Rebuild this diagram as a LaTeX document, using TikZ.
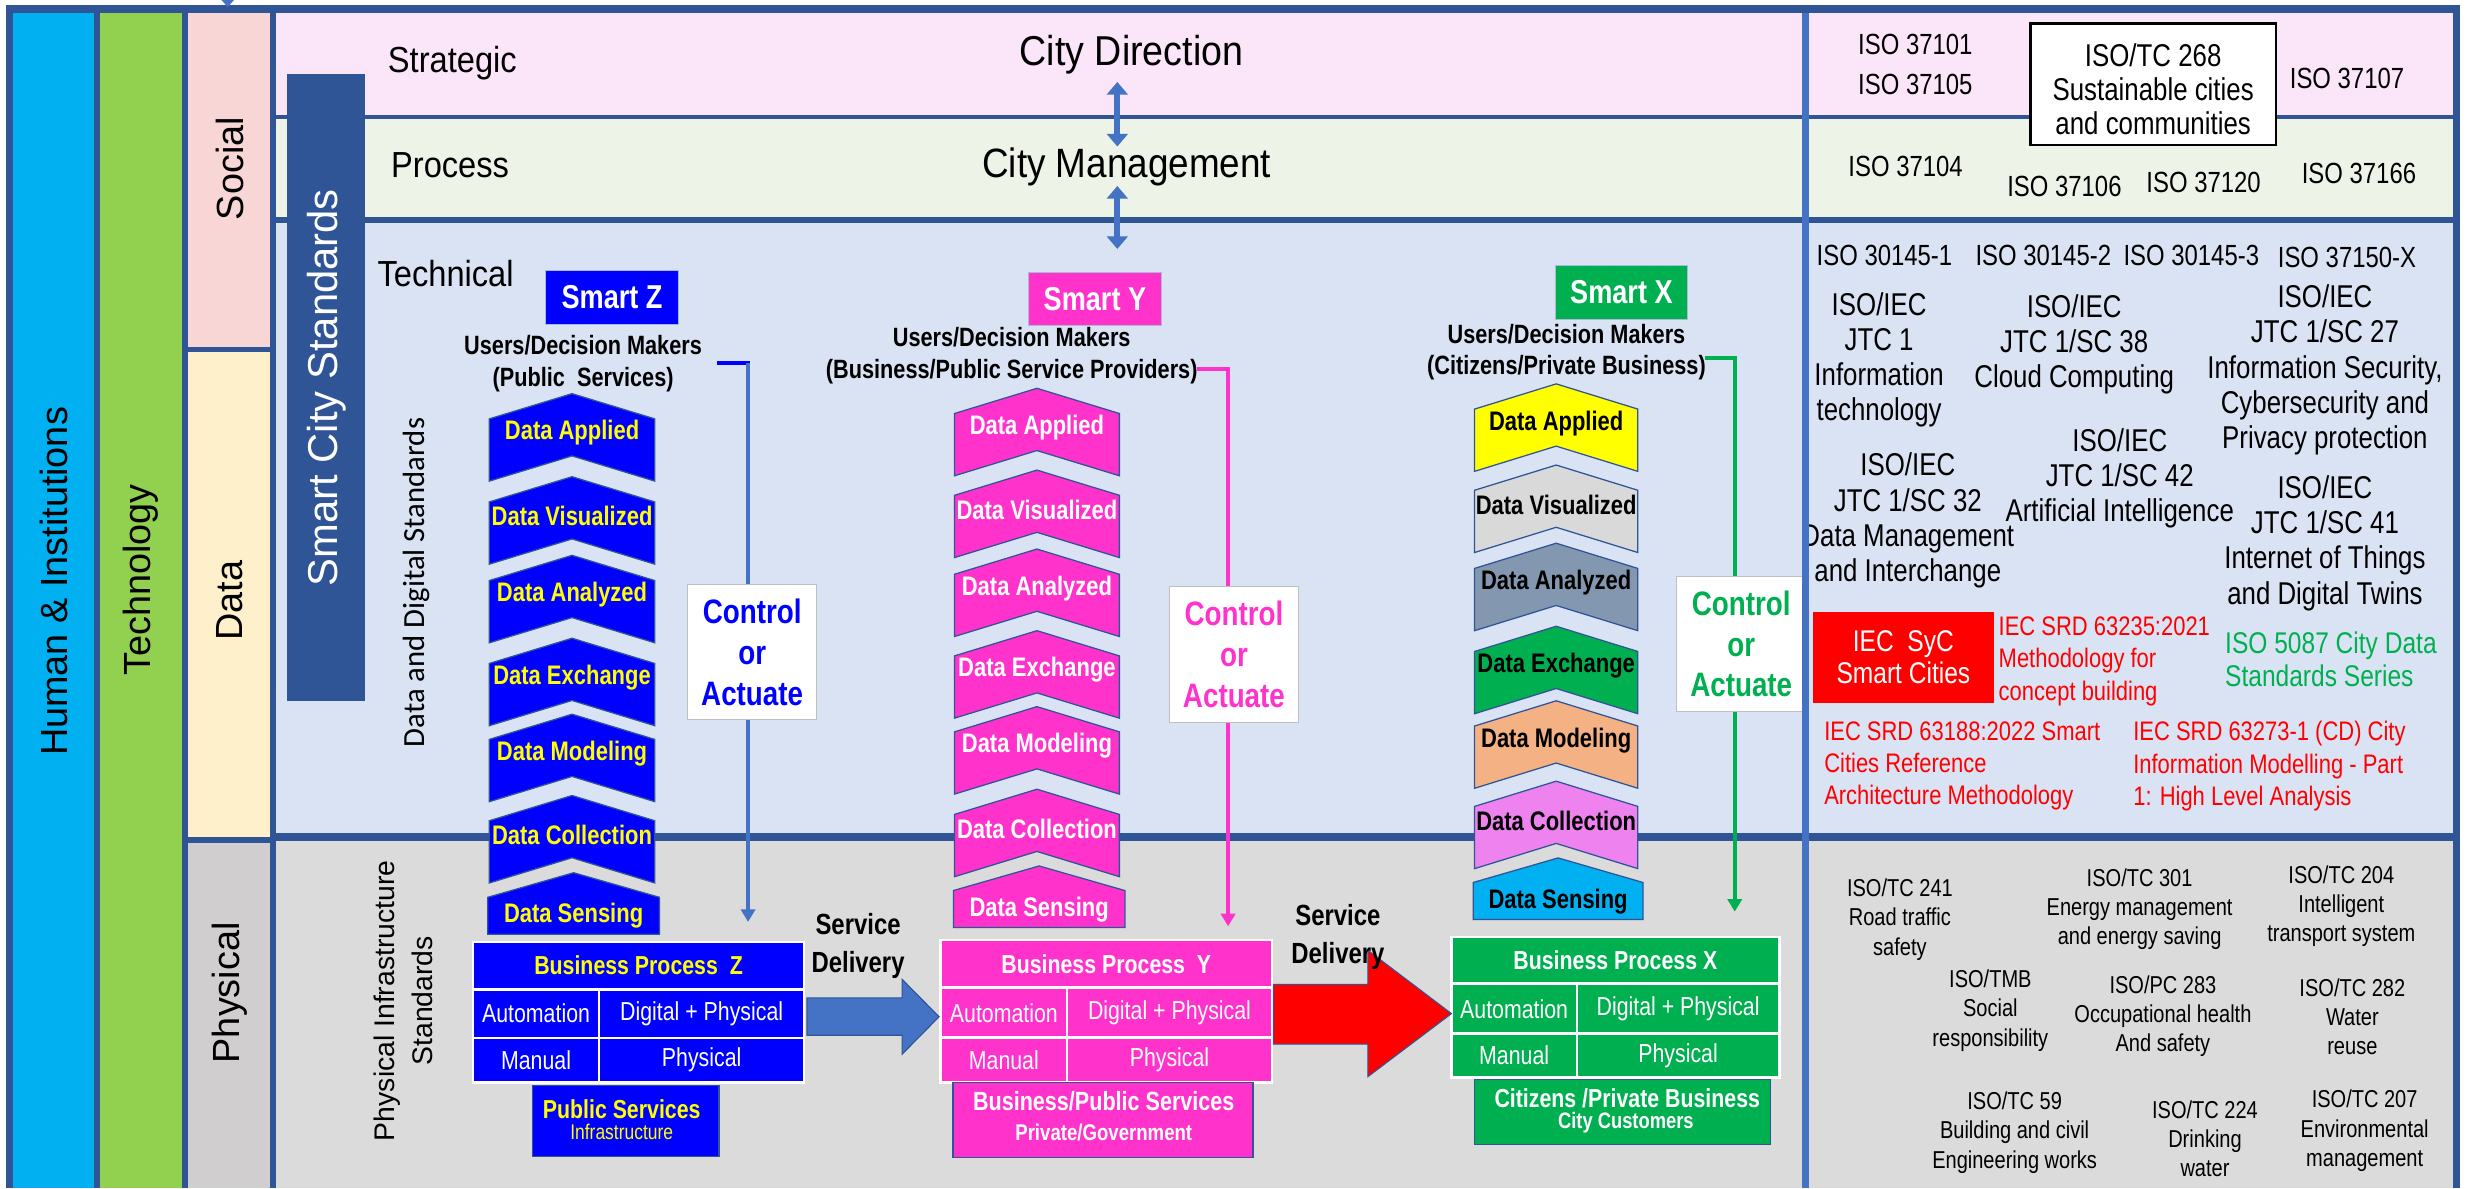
\documentclass[tikz,border=0pt]{standalone}
\usepackage{fontspec}
\setmainfont{Liberation Sans}
\newfontfamily\nar[FakeStretch=0.82]{Liberation Sans}
\newfontfamily\semi[FakeStretch=0.9]{Liberation Sans}
\newfontfamily\calfont{Carlito}
\usetikzlibrary{arrows.meta,calc}

\definecolor{frame}{HTML}{2F5597}
\definecolor{divc}{HTML}{4472C4}
\definecolor{cyanc}{HTML}{00B0F0}
\definecolor{greenc}{HTML}{92D050}
\definecolor{socialc}{HTML}{F8D6D5}
\definecolor{datac}{HTML}{FFF0CC}
\definecolor{physc}{HTML}{D0CECE}
\definecolor{strat}{HTML}{FBE5F9}
\definecolor{proc}{HTML}{EEF3E8}
\definecolor{tech}{HTML}{DAE3F3}
\definecolor{physband}{HTML}{DBDBDB}
\definecolor{zblue}{HTML}{0000FF}
\definecolor{ymag}{HTML}{FF33CC}
\definecolor{xgreen}{HTML}{00B050}
\definecolor{isored}{HTML}{FF0000}
\definecolor{xyel}{HTML}{FFFF00}
\definecolor{xgrey}{HTML}{D9D9D9}
\definecolor{xslate}{HTML}{8497B0}
\definecolor{xpeach}{HTML}{F4B183}
\definecolor{xviolet}{HTML}{EE82EE}

\newcommand\fsz[2]{\fontsize{#1}{#2}\selectfont}
% chevron step: name, centre x, top y, width, fill, text colour, label
\newcommand\chevshape[7]{%
  \filldraw[chev, fill=#5] ({#2-#4/2},{#3+16}) -- (#2,#3) -- ({#2+#4/2},{#3+16})
    -- ({#2+#4/2},{#3+55.5}) -- (#2,{#3+39.5}) -- ({#2-#4/2},{#3+55.5}) -- cycle;
  \node[chevtext, text=#6] (#1) at (#2,{#3+25}) {#7};}
% bottom step with a flat base
\newcommand\pentshape[7]{%
  \filldraw[chev, fill=#5] ({#2-#4/2},{#3+15.6}) -- (#2,#3) -- ({#2+#4/2},{#3+15.6})
    -- ({#2+#4/2},{#3+39}) -- ({#2-#4/2},{#3+39}) -- cycle;
  \node[chevtext, text=#6] (#1) at (#2,{#3+27.5}) {#7};}
% rectangular cell: name, x1, y1, x2, y2, fill, options, text
\newcommand\cellbox[8]{\node[anchor=north west, minimum width={#4-#2}, minimum height={#5-#3}, fill=#6, #7] (#1) at (#2,#3) {#8};}

\begin{document}
\begin{tikzpicture}[x=1pt,y=-1pt,
  every node/.style={inner sep=0pt},
  chev/.style={draw=frame, line width=0.8pt},
  chevtext/.style={font=\nar\bfseries\fsz{17}{19}},
  lbl/.style={font=\fsz{24}{28}, rotate=90},
  bandlbl/.style={font=\semi\fsz{23}{26}, anchor=west},
  users/.style={font=\nar\bfseries\fsz{16.8}{20.2}, align=center},
  smartbox/.style={font=\nar\bfseries\fsz{21}{24}, text=white, minimum width=84pt, minimum height=34pt, draw=frame!40, line width=0.6pt},
  ctrl/.style={fill=white, draw=black!25, line width=0.6pt, minimum width=82pt, minimum height=86pt, align=center, font=\nar\bfseries\fsz{21.5}{26}},
  cline/.style={line width=2.5pt, -{Triangle[width=9pt,length=8pt]}},
  cell/.style={font=\nar\fsz{16.5}{18}, text=white},
  ttl/.style={font=\nar\bfseries\fsz{16.5}{18}},
  svc/.style={draw=frame, line width=0.8pt},
  sd/.style={font=\nar\bfseries\fsz{18.5}{24}, align=center},
  iso/.style={font=\nar\fsz{18.5}{22}},
  jtc/.style={font=\nar\fsz{20}{22.3}, align=center},
  phy/.style={font=\nar\fsz{15.5}{18.5}, align=center},
  redt/.style={font=\nar\fsz{17}{20.4}, align=left, anchor=west, text=isored},
  dbl/.style={line width=4pt, draw=divc, {Triangle[width=13pt,length=8pt]}-{Triangle[width=13pt,length=8pt]}},
  blockarrow/.style={draw=frame, line width=0.7pt}
]
\useasboundingbox (0,0) rectangle (1568,754);
\fill[white] (0,0) rectangle (1568,754);

% frame and the stripes of the left side
\fill[frame] (4,3) rectangle (1560.8,754);
\fill[cyanc] (8.5,8.5) rectangle (59.5,754);
\fill[greenc] (63.7,8.5) rectangle (115.6,754);
\fill[socialc] (119,8.5) rectangle (171.4,220);
\fill[datac] (119,223.5) rectangle (171.4,531);
\fill[physc] (119,535) rectangle (171.4,754);

% horizontal layers
\fill[strat] (175,8.5) rectangle (1556.6,73);
\fill[proc] (175,75.5) rectangle (1556.6,137.4);
\fill[tech] (175,141.6) rectangle (1556.6,528.8);
\fill[physband] (175,533.8) rectangle (1556.6,754);

% small marker on the top edge
\fill[divc] (140.5,0) -- (148.5,0) -- (144.5,4.5) -- cycle;

% column titles
\node[lbl] (hum) at (34,369) {Human \& Institutions};
\node[lbl] (tec) at (89.5,368) {Technology};
\node[lbl] (soc) at (146,107) {Social};
\node[lbl] (dat) at (145.5,381) {Data};
\node[lbl] (phl) at (146,630) {Physical};

% standards bar
\node[fill=frame, rotate=90, minimum width=398pt, minimum height=49.5pt, text=white, font=\fsz{26.5}{30}] (scs) at (207,246) {Smart City Standards};

% layer names
\node[bandlbl] (strg) at (246,40.2) {Strategic};
\node[bandlbl] (prcs) at (248,104.6) {Process};
\node[bandlbl] (tchn) at (239.4,173.4) {Technical};
\node[rotate=90, font=\calfont\fsz{19.5}{22}] (dds) at (264,369.6) {Data and Digital Standards};
\node[rotate=90, align=center, font=\fsz{18}{24}] (pis) at (256,635) {Physical Infrastructure\\Standards};

% city direction and management
\node[font=\semi\fsz{26.5}{30}] (cd) at (718,35) {City Direction};
\node[font=\semi\fsz{26}{30}] (cm) at (715,106) {City Management};
\coordinate (u1) at (709,52);
\coordinate (u2) at (709,93);
\coordinate (u3) at (709,118);
\coordinate (u4) at (709,158);
\draw[dbl] (u1) -- (u2);
\draw[dbl] (u3) -- (u4);

% ---------------- Smart Z ----------------
\node[smartbox, fill=zblue] (smz) at (388.4,188.6) {Smart Z};
\node[users] (usz) at (370,230.6) {Users/Decision Makers\\(Public\ \ Services)};
\coordinate (zc0) at (455,230.3);
\coordinate (zc1) at (474.7,230.3);
\coordinate (zc2) at (474.7,585);
\draw[line width=2.5pt, zblue] (zc0) -- ([xshift=1.25pt]zc1);
\draw[cline, divc] (zc1) -- (zc2);
\chevshape{za}{363}{249.8}{105}{zblue}{xyel}{Data Applied}
\chevshape{zv}{363}{302.5}{105}{zblue}{xyel}{Data Visualized}
\chevshape{zn}{363}{352.4}{105}{zblue}{xyel}{Data Analyzed}
\chevshape{ze}{363}{405}{105}{zblue}{xyel}{Data Exchange}
\chevshape{zm}{363}{453.2}{105}{zblue}{xyel}{Data Modeling}
\chevshape{zc}{363}{504.8}{105}{zblue}{xyel}{Data Collection}
\pentshape{zs}{364}{553.8}{109}{zblue}{xyel}{Data Sensing}
\node[ctrl, text=zblue] (ctz) at (477.3,413.7) {Control\\or\\Actuate};

% ---------------- Smart Y ----------------
\node[smartbox, fill=ymag] (smy) at (694.8,189.8) {Smart Y};
\node[users] (usy) at (642,225.9) {Users/Decision Makers\\(Business/Public Service Providers)};
\coordinate (yc0) at (759.7,234.2);
\coordinate (yc2) at (779.3,587.8);
\draw[cline, ymag] (yc0) -| (yc2);
\chevshape{ya}{658}{246.4}{104.6}{ymag}{white}{Data Applied}
\chevshape{yv}{658}{298.3}{104.6}{ymag}{white}{Data Visualized}
\chevshape{yn}{658}{348.4}{104.6}{ymag}{white}{Data Analyzed}
\chevshape{ye}{658}{400.2}{104.6}{ymag}{white}{Data Exchange}
\chevshape{ym}{658}{448.4}{104.6}{ymag}{white}{Data Modeling}
\chevshape{yc}{658}{500.8}{104.6}{ymag}{white}{Data Collection}
\pentshape{ys}{659.4}{549.5}{108.8}{ymag}{white}{Data Sensing}
\node[ctrl, text=ymag] (cty) at (783,415.4) {Control\\or\\Actuate};

% ---------------- Smart X ----------------
\node[smartbox, fill=xgreen] (smx) at (1028.9,185.5) {Smart X};
\node[users] (usx) at (994,223.5) {Users/Decision Makers\\(Citizens/Private Business)};
\coordinate (xc0) at (1081.7,227.4);
\coordinate (xc2) at (1100.8,578.5);
\draw[cline, xgreen] (xc0) -| (xc2);
\chevshape{xa}{987.5}{243.6}{103.6}{xyel}{black}{Data Applied}
\chevshape{xv}{987.5}{295.1}{103.6}{xgrey}{black}{Data Visualized}
\chevshape{xn}{987.5}{344.7}{103.6}{xslate}{black}{Data Analyzed}
\chevshape{xe}{987.5}{397.4}{103.6}{xgreen}{black}{Data Exchange}
\chevshape{xm}{987.5}{444.7}{103.6}{xpeach}{black}{Data Modeling}
\chevshape{xc}{987.5}{495.7}{103.6}{xviolet}{black}{Data Collection}
\pentshape{xs}{988.7}{544.4}{107.8}{cyanc}{black}{Data Sensing}
\node[ctrl, text=xgreen] (ctx) at (1104.9,408.6) {Control\\or\\Actuate};

% ---------------- business processes ----------------
\cellbox{bpZ}{299.1}{596.9}{510.9}{687.4}{white}{}{}
\cellbox{bzt}{300.7}{598.5}{509.3}{626.6}{zblue}{ttl, text=xyel}{Business Process\ \ Z}
\cellbox{bza}{300.7}{628.4}{379.2}{657.6}{zblue}{cell}{Automation}
\cellbox{bzd}{380.8}{628.4}{509.3}{657.6}{zblue}{cell}{Digital + Physical}
\cellbox{bzm}{300.7}{659.2}{379.2}{685.8}{zblue}{cell}{Manual}
\cellbox{bzp}{380.8}{659.2}{509.3}{685.8}{zblue}{cell}{Physical}
\cellbox{svz}{337.6}{688.4}{455.8}{733.5}{zblue}{svc}{}
\node[font=\nar\bfseries\fsz{16.5}{18}, text=xyel] (svz1) at (394.5,703.9) {Public Services};
\node[font=\nar\fsz{13.5}{15}, text=xyel] (svz2) at (394.5,718.5) {Infrastructure};

\cellbox{bpY}{595.9}{595.4}{807.7}{687.4}{white}{}{}
\cellbox{byt}{597.5}{597}{806.1}{625.7}{ymag}{ttl, text=white}{Business Process\ \ Y}
\cellbox{bya}{597.5}{627.5}{676.1}{657.4}{ymag}{cell}{Automation}
\cellbox{byd}{677.7}{627.5}{806.1}{657.4}{ymag}{cell}{Digital + Physical}
\cellbox{bym}{597.5}{659}{676.1}{685.8}{ymag}{cell}{Manual}
\cellbox{byp}{677.7}{659}{806.1}{685.8}{ymag}{cell}{Physical}
\cellbox{svy}{604.4}{686.3}{794.7}{733.9}{ymag}{svc}{}
\node[font=\nar\bfseries\fsz{16.7}{18}, text=white] (svy1) at (700.4,699) {Business/Public Services};
\node[font=\nar\bfseries\fsz{14.4}{16}, text=white] (svy2) at (700.4,718.5) {Private/Government};

\cellbox{bpX}{920}{593.7}{1129.7}{684.2}{white}{}{}
\cellbox{bxt}{921.6}{595.3}{1128.1}{623.2}{xgreen}{ttl, text=white}{Business Process X}
\cellbox{bxa}{921.6}{625}{999.6}{654.8}{xgreen}{cell}{Automation}
\cellbox{bxd}{1001.2}{625}{1128.1}{654.8}{xgreen}{cell}{Digital + Physical}
\cellbox{bxm}{921.6}{656.4}{999.6}{682.6}{xgreen}{cell}{Manual}
\cellbox{bxp}{1001.2}{656.4}{1128.1}{682.6}{xgreen}{cell}{Physical}
\cellbox{svx}{935.2}{684.4}{1123}{725.8}{xgreen}{svc}{}
\node[font=\nar\bfseries\fsz{16.5}{18}, text=white] (svx1) at (1032.6,696.9) {Citizens /Private Business};
\node[font=\nar\bfseries\fsz{14.2}{16}, text=white] (svx2) at (1031.7,712.7) {City Customers};

% service delivery arrows
\filldraw[blockarrow, fill=divc]
  ($(bpZ.east)+(0.8,-9.15)$) -- ($(bpY.west)+(-23.5,-8.4)$) -- ($(bpY.west)+(-23.5,-20.2)$)
  -- ($(bpY.west)+(0,3.6)$) -- ($(bpY.west)+(-23.5,27.4)$) -- ($(bpY.west)+(-23.5,15.3)$)
  -- ($(bpZ.east)+(0.8,14.55)$) -- cycle;
\filldraw[blockarrow, fill=isored]
  ($(bpY.east)+(0,-17)$) -- ($(bpX.west)+(-52,-14.55)$) -- ($(bpX.west)+(-52,-36.15)$)
  -- ($(bpX.west)+(1,4.05)$) -- ($(bpX.west)+(-52,44.05)$) -- ($(bpX.west)+(-52,23.45)$)
  -- ($(bpY.east)+(0,21)$) -- cycle;
\node[sd] (sd1) at (544.5,600.2) {Service\\Delivery};
\node[sd] (sd2) at (849,594.4) {Service\\Delivery};

% ---------------- standards panel ----------------
\node[iso] (s37101) at (1215.4,28.5) {ISO 37101};
\node[iso] (s37105) at (1215.4,53.9) {ISO 37105};
\node[draw=black, line width=1.6pt, fill=white, minimum width=156pt, minimum height=77pt] (tc268) at (1366.3,53.5) {};
\node[jtc, font=\nar\fsz{20}{21.6}] (tc268t) at (1366.3,56.6) {ISO/TC 268\\Sustainable cities\\and communities};
\node[iso] (s37107) at (1489.3,49.7) {ISO 37107};
\node[iso] (s37104) at (1209.2,105.7) {ISO 37104};
\node[iso] (s37106) at (1310,118.4) {ISO 37106};
\node[iso] (s37120) at (1398.3,115.9) {ISO 37120};
\node[iso] (s37166) at (1496.9,110) {ISO 37166};

\node[iso] (s301451) at (1195.8,161.8) {ISO 30145-1};
\node[iso] (s301452) at (1296.6,161.8) {ISO 30145-2};
\node[iso] (s301453) at (1390.5,161.8) {ISO 30145-3};
\node[iso] (s37150) at (1489.3,163.3) {ISO 37150-X};
\node[jtc] (jtc1) at (1192.4,228.4) {ISO/IEC\\JTC 1\\Information\\technology};
\node[jtc] (sc38) at (1316.2,218.4) {ISO/IEC\\JTC 1/SC 38\\Cloud Computing};
\node[jtc] (sc27) at (1475.3,234.7) {ISO/IEC\\JTC 1/SC 27\\Information Security,\\Cybersecurity and\\Privacy protection};
\node[jtc] (sc42) at (1345.1,303.4) {ISO/IEC\\JTC 1/SC 42\\Artificial Intelligence};
\node[jtc] (sc32) at (1210.6,330.3) {ISO/IEC\\JTC 1/SC 32\\Data Management\\and Interchange};
\node[jtc] (sc41) at (1475.3,344.7) {ISO/IEC\\JTC 1/SC 41\\Internet of Things\\and Digital Twins};

\node[fill=isored, minimum width=115pt, minimum height=57.7pt, align=center, text=white, font=\nar\fsz{19}{20.6}] (syc) at (1207.8,417) {IEC\ \ SyC\\Smart Cities};
\node[redt] (srd63235) at (1268.1,419.7) {IEC SRD 63235:2021\\Methodology for\\concept building};
\node[font=\nar\fsz{19}{21.1}, align=left, anchor=west, text=xgreen] (iso5087) at (1411.8,418.4) {ISO 5087 City Data\\Standards Series};
\node[redt] (srd63188) at (1157.4,486.2) {IEC SRD 63188:2022 Smart\\Cities Reference\\Architecture Methodology};
\node[redt] (srd63273) at (1353.5,486.2) {IEC SRD 63273-1 (CD) City\\Information Modelling - Part\\1: High Level Analysis};

\node[phy] (tc241) at (1205.6,583.5) {ISO/TC 241\\Road traffic\\safety};
\node[phy] (tc301) at (1357.7,576.8) {ISO/TC 301\\Energy management\\and energy saving};
\node[phy] (tc204) at (1485.7,575.1) {ISO/TC 204\\Intelligent\\transport system};
\node[phy] (tmb) at (1263,641.3) {ISO/TMB\\Social\\responsibility};
\node[phy] (pc283) at (1372.5,645) {ISO/PC 283\\Occupational health\\And safety};
\node[phy] (tc282) at (1492.7,645) {ISO/TC 282\\Water\\reuse};
\node[phy] (tc59) at (1278.4,718.7) {ISO/TC 59\\Building and civil\\Engineering works};
\node[phy] (tc224) at (1399.2,722.4) {ISO/TC 224\\Drinking\\water};
\node[phy] (tc207) at (1500.5,717.5) {ISO/TC 207\\Environmental\\management};

% divider between the model and the standards panel
\fill[divc] (1143.4,8) rectangle (1147.6,754);
\end{tikzpicture}
\end{document}
